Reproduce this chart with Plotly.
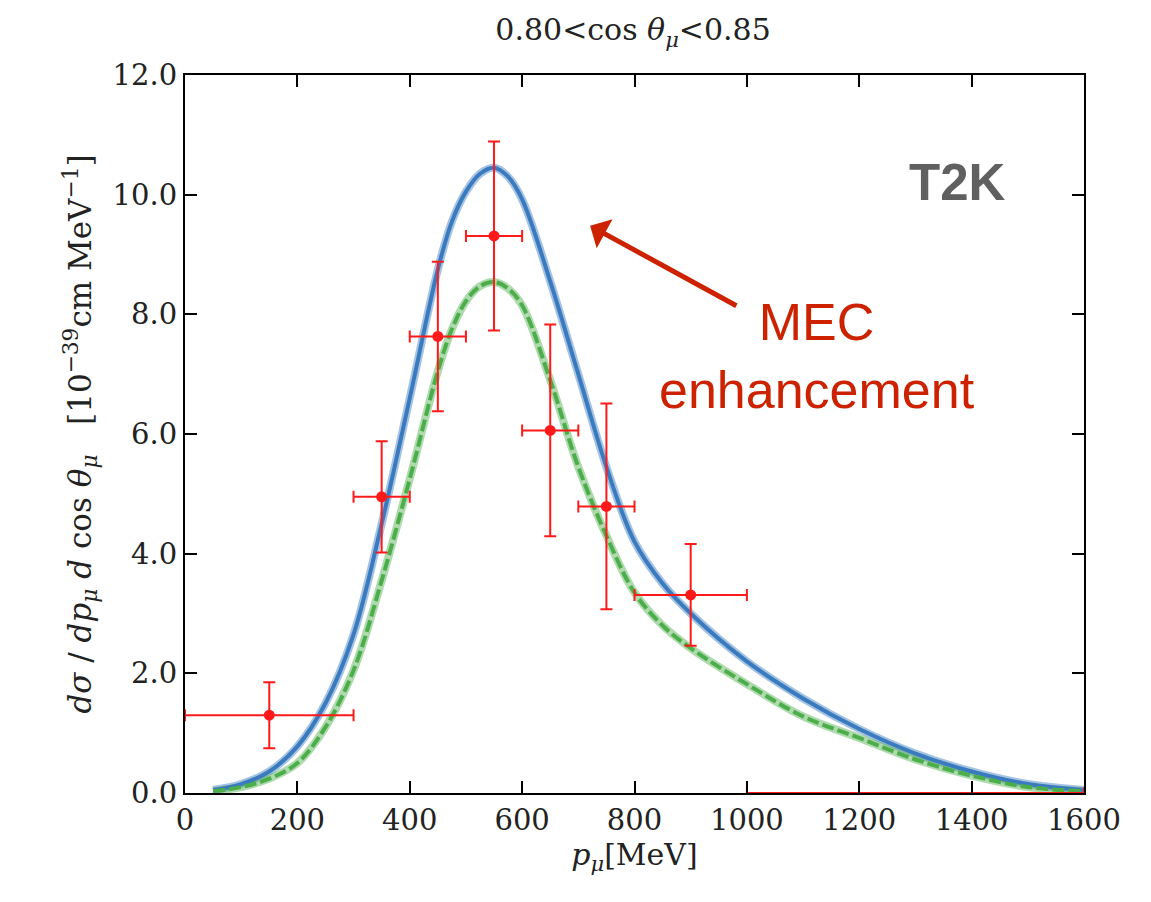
import plotly.graph_objects as go

# ---- data ----
p_model = [50, 100, 150, 200, 250, 300, 350, 400, 450, 475, 500, 525, 550, 575, 600, 650, 700,
           750, 800, 850, 900, 1000, 1100, 1200, 1300, 1400, 1500, 1600]
mec_xsec = [0.05, 0.15, 0.36, 0.78, 1.5, 2.65, 4.5, 6.6, 8.75, 9.55, 10.05, 10.35, 10.45, 10.3, 9.92, 8.55, 7.0,
            5.45, 4.2, 3.5, 3.0, 2.2, 1.58, 1.07, 0.66, 0.36, 0.15, 0.05]
nomec_xsec = [0.03, 0.1, 0.24, 0.5, 1.1, 2.05, 3.55, 5.25, 7.05, 7.75, 8.22, 8.47, 8.54, 8.43, 8.15, 6.9, 5.45,
              4.3, 3.35, 2.8, 2.42, 1.82, 1.28, 0.92, 0.56, 0.29, 0.1, 0.03]

data_p = [150, 350, 450, 550, 650, 750, 900]
data_xsec = [1.30, 4.95, 7.63, 9.31, 6.06, 4.79, 3.31]
data_perr = [150, 50, 50, 50, 50, 50, 100]
data_xerr = [0.55, 0.93, 1.25, 1.58, 1.77, 1.72, 0.85]

zero_bin_p = [1300]
zero_bin_xsec = [0.0]
zero_bin_perr = [300]

x_ticks = [0, 200, 400, 600, 800, 1000, 1200, 1400, 1600]
y_ticks = [0, 2, 4, 6, 8, 10, 12]

BLUE = "#3a7bbf"
GREEN = "#4cae4a"
RED = "#ff1a1a"
ANN = "#cc2200"
SERIF = "DejaVu Serif"

fig = go.Figure()

# uncertainty bands (translucent strokes)
fig.add_trace(go.Scatter(x=p_model, y=mec_xsec, mode="lines",
                         line=dict(color="rgba(58,123,191,0.45)", width=8, shape="spline", smoothing=1),
                         hoverinfo="skip", showlegend=False))
fig.add_trace(go.Scatter(x=p_model, y=nomec_xsec, mode="lines",
                         line=dict(color="rgba(76,174,74,0.45)", width=8, shape="spline", smoothing=1),
                         hoverinfo="skip", showlegend=False))
# central curves
fig.add_trace(go.Scatter(x=p_model, y=mec_xsec, mode="lines",
                         line=dict(color=BLUE, width=4, shape="spline", smoothing=1),
                         showlegend=False))
fig.add_trace(go.Scatter(x=p_model, y=nomec_xsec, mode="lines",
                         line=dict(color=GREEN, width=4, shape="spline", smoothing=1, dash="12px,4px"),
                         showlegend=False))

# data
fig.add_trace(go.Scatter(x=data_p, y=data_xsec, mode="markers",
                         marker=dict(color=RED, size=11),
                         error_x=dict(type="data", array=data_perr, color=RED, thickness=2, width=6),
                         error_y=dict(type="data", array=data_xerr, color=RED, thickness=2, width=6),
                         showlegend=False))
fig.add_trace(go.Scatter(x=zero_bin_p, y=zero_bin_xsec, mode="markers",
                         marker=dict(color=RED, size=1, opacity=0),
                         error_x=dict(type="data", array=zero_bin_perr, color=RED, thickness=2, width=6),
                         showlegend=False, cliponaxis=False))

fig.update_layout(
    width=1151, height=902,
    margin=dict(l=185, r=67, t=75, b=109),
    paper_bgcolor="white", plot_bgcolor="white",
    font=dict(family=SERIF, size=29, color="#222"),
    title=dict(text="0.80&lt;cos <i>θ</i><sub><i>μ</i></sub>&lt;0.85", x=0.55, xanchor="center",
               y=0.967, yanchor="middle", font=dict(family=SERIF, size=30, color="#222")),
    showlegend=False,
)
fig.update_xaxes(range=[0, 1600], tickvals=x_ticks, ticktext=[str(v) for v in x_ticks],
                 ticks="inside", ticklen=12, tickwidth=1.5, tickcolor="black",
                 showline=True, linecolor="black", linewidth=2, mirror="ticks",
                 showgrid=False, zeroline=False,
                 title=dict(text="<i>p</i><sub><i>μ</i></sub>[MeV]", standoff=8,
                            font=dict(family=SERIF, size=30)),
                 tickfont=dict(family=SERIF, size=29))
fig.update_yaxes(range=[0, 12], tickvals=y_ticks, ticktext=[f"{v:.1f}" for v in y_ticks],
                 ticks="inside", ticklen=12, tickwidth=1.5, tickcolor="black",
                 showline=True, linecolor="black", linewidth=2, mirror="ticks",
                 showgrid=False, zeroline=False,
                 title=dict(text="<i>dσ</i> / <i>dp</i><sub><i>μ</i></sub> <i>d</i> cos <i>θ</i><sub><i>μ</i></sub>   [10<sup>−39</sup>cm MeV<sup>−1</sup>]",
                            standoff=12, font=dict(family=SERIF, size=31)),
                 tickfont=dict(family=SERIF, size=29))

fig.add_annotation(x=1375, y=10.2, xref="x", yref="y", text="<b>T2K</b>", showarrow=False,
                   font=dict(family="Liberation Sans", size=51, color="#606060"))
fig.add_annotation(x=1125, y=7.3, xref="x", yref="y", text="MEC<br>enhancement", showarrow=False,
                   font=dict(family="Liberation Sans", size=52, color=ANN), align="center")
fig.add_annotation(x=721, y=9.48, ax=984, ay=8.13, xref="x", yref="y", axref="x", ayref="y",
                   text="", showarrow=True, arrowhead=1, arrowsize=1.1, arrowwidth=5, arrowcolor=ANN)

fig.write_html("out.html")
